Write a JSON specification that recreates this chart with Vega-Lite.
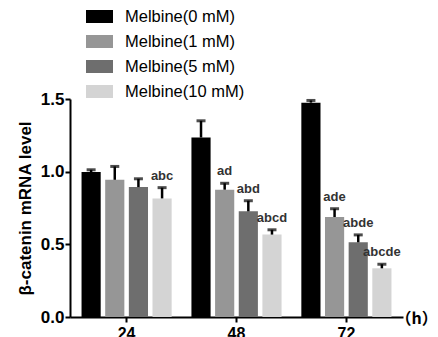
{
  "$schema": "https://vega.github.io/schema/vega-lite/v6.json",
  "width": 333,
  "height": 218,
  "autosize": {"type": "none"},
  "padding": {"left": 70, "top": 99, "right": 35, "bottom": 20},
  "background": "white",
  "config": {"view": {"stroke": null}, "font": "Liberation Sans"},
  "data": {
    "values": [
      {"time": "24", "conc": "Melbine(0 mM)", "mean": 0.997, "upper": 1.013, "label": ""},
      {"time": "24", "conc": "Melbine(1 mM)", "mean": 0.944, "upper": 1.036, "label": ""},
      {"time": "24", "conc": "Melbine(5 mM)", "mean": 0.894, "upper": 0.951, "label": ""},
      {"time": "24", "conc": "Melbine(10 mM)", "mean": 0.816, "upper": 0.89, "label": "abc"},
      {"time": "48", "conc": "Melbine(0 mM)", "mean": 1.235, "upper": 1.35, "label": ""},
      {"time": "48", "conc": "Melbine(1 mM)", "mean": 0.876, "upper": 0.92, "label": "ad"},
      {"time": "48", "conc": "Melbine(5 mM)", "mean": 0.727, "upper": 0.8, "label": "abd"},
      {"time": "48", "conc": "Melbine(10 mM)", "mean": 0.567, "upper": 0.6, "label": "abcd"},
      {"time": "72", "conc": "Melbine(0 mM)", "mean": 1.475, "upper": 1.49, "label": ""},
      {"time": "72", "conc": "Melbine(1 mM)", "mean": 0.688, "upper": 0.745, "label": "ade"},
      {"time": "72", "conc": "Melbine(5 mM)", "mean": 0.514, "upper": 0.565, "label": "abde"},
      {"time": "72", "conc": "Melbine(10 mM)", "mean": 0.335, "upper": 0.363, "label": "abcde"}
    ]
  },
  "encoding": {
    "x": {
      "field": "time", "type": "nominal", "sort": ["24", "48", "72"],
      "scale": {"paddingInner": 0.18, "paddingOuter": 0.105},
      "axis": {
        "title": "（h）", "titleFont": "Noto Sans CJK SC", "titleFontSize": 16, "titleFontWeight": "bold",
        "titleAlign": "left", "titleBaseline": "middle", "titleX": 325, "titleY": 1, "titleColor": "black",
        "labelAngle": 0, "labelFontSize": 16, "labelFontWeight": "bold", "labelColor": "black", "labelPadding": 3,
        "domainColor": "black", "domainWidth": 2, "tickColor": "black", "tickWidth": 2, "tickSize": 5, "grid": false
      }
    },
    "xOffset": {
      "field": "conc", "type": "nominal",
      "sort": ["Melbine(0 mM)", "Melbine(1 mM)", "Melbine(5 mM)", "Melbine(10 mM)"],
      "scale": {"paddingInner": 0.19, "paddingOuter": 0}
    }
  },
  "layer": [
    {
      "mark": {"type": "bar"},
      "encoding": {
        "y": {
          "field": "mean", "type": "quantitative", "scale": {"domain": [0, 1.5], "nice": false},
          "title": "β-catenin mRNA  level",
          "axis": {
            "titleFontSize": 17, "titleFontWeight": "bold", "titleColor": "black",
            "titleAngle": 270, "titleX": -45, "titleY": 109, "titleAlign": "center", "titleBaseline": "middle",
            "values": [0, 0.5, 1, 1.5], "format": ".1f",
            "labelFontSize": 17, "labelFontWeight": "bold", "labelColor": "black", "labelPadding": 1,
            "domainColor": "black", "domainWidth": 2, "tickColor": "black", "tickWidth": 2, "tickSize": 5, "grid": false
          }
        },
        "color": {
          "field": "conc", "type": "nominal",
          "sort": ["Melbine(0 mM)", "Melbine(1 mM)", "Melbine(5 mM)", "Melbine(10 mM)"],
          "scale": {"range": ["#000000", "#969696", "#6e6e6e", "#d4d4d4"]},
          "legend": {
            "title": null, "orient": "none", "legendX": 16, "legendY": -96, "padding": 0,
            "symbolType": "M-1,-0.48H1V0.48H-1Z", "symbolSize": 729, "symbolStrokeWidth": 0, "symbolOpacity": 1,
            "labelFontSize": 16.5, "labelOffset": 12, "labelColor": "black", "rowPadding": 3
          }
        }
      }
    },
    {
      "mark": {"type": "rule", "strokeWidth": 2.5, "color": "black"},
      "encoding": {
        "y": {"field": "mean", "type": "quantitative", "title": "β-catenin mRNA  level"},
        "y2": {"field": "upper"}
      }
    },
    {
      "mark": {"type": "tick", "thickness": 3, "size": 9, "color": "black"},
      "encoding": {
        "y": {"field": "upper", "type": "quantitative", "title": "β-catenin mRNA  level"}
      }
    },
    {
      "mark": {"type": "text", "fontWeight": "bold", "fontSize": 13, "color": "#333333", "baseline": "middle", "dy": -12},
      "encoding": {
        "y": {"field": "upper", "type": "quantitative", "title": "β-catenin mRNA  level"},
        "text": {"field": "label"}
      }
    }
  ]
}
